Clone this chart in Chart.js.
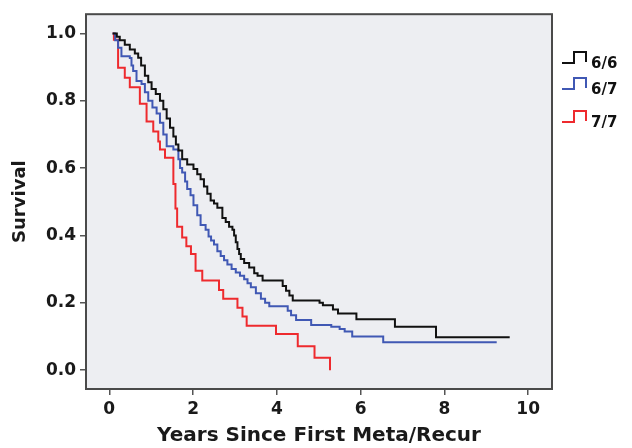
<!DOCTYPE html>
<html>
<head>
<meta charset="utf-8">
<script src="https://cdn.jsdelivr.net/npm/chart.js@4/dist/chart.umd.min.js"></script>
<style>
  html, body { margin: 0; padding: 0; background: #fff; }
</style>
</head>
<body>
<canvas id="chart" width="632" height="448"></canvas>
<script>
// group labels (legend)
const groups = ["6/6", "6/7", "7/7"];
const colors = ["#111111", "#4058b4", "#ee2a2e"];

// Kaplan-Meier steps: time (years) and survival after the drop
const times66 = [0.08, 0.18, 0.25, 0.37, 0.49, 0.61, 0.69, 0.76, 0.85, 0.93, 1.01, 1.11, 1.21, 1.29, 1.37, 1.45, 1.53, 1.59, 1.65, 1.74, 1.86, 2.01, 2.10, 2.18, 2.26, 2.34, 2.42, 2.50, 2.58, 2.70, 2.78, 2.86, 2.94, 2.98, 3.02, 3.06, 3.10, 3.14, 3.22, 3.34, 3.46, 3.54, 3.66, 4.14, 4.22, 4.30, 4.38, 5.02, 5.10, 5.34, 5.46, 5.90, 6.82, 7.80, 9.56];
const surv66 = [1.0, 0.99, 0.98, 0.966, 0.952, 0.94, 0.928, 0.905, 0.874, 0.855, 0.835, 0.82, 0.80, 0.775, 0.747, 0.72, 0.694, 0.67, 0.652, 0.626, 0.611, 0.597, 0.582, 0.567, 0.545, 0.524, 0.504, 0.495, 0.482, 0.452, 0.44, 0.426, 0.417, 0.40, 0.38, 0.36, 0.345, 0.33, 0.318, 0.305, 0.288, 0.28, 0.266, 0.25, 0.236, 0.222, 0.207, 0.20, 0.193, 0.18, 0.168, 0.151, 0.129, 0.098, 0.098];

const times67 = [0.08, 0.14, 0.21, 0.29, 0.49, 0.53, 0.57, 0.65, 0.77, 0.85, 0.93, 1.03, 1.13, 1.21, 1.29, 1.37, 1.53, 1.65, 1.69, 1.74, 1.81, 1.86, 1.94, 2.01, 2.10, 2.18, 2.30, 2.37, 2.43, 2.50, 2.58, 2.66, 2.74, 2.82, 2.92, 3.02, 3.12, 3.22, 3.30, 3.38, 3.50, 3.62, 3.72, 3.82, 4.26, 4.34, 4.46, 4.82, 5.30, 5.50, 5.62, 5.80, 6.54, 9.25];
const surv67 = [1.0, 0.98, 0.957, 0.932, 0.927, 0.905, 0.888, 0.859, 0.85, 0.825, 0.80, 0.78, 0.762, 0.735, 0.70, 0.665, 0.655, 0.626, 0.60, 0.587, 0.56, 0.538, 0.519, 0.49, 0.46, 0.431, 0.417, 0.397, 0.385, 0.373, 0.353, 0.339, 0.326, 0.314, 0.30, 0.29, 0.28, 0.27, 0.258, 0.246, 0.228, 0.212, 0.20, 0.19, 0.176, 0.163, 0.149, 0.134, 0.129, 0.122, 0.115, 0.10, 0.083, 0.083];

const times77 = [0.08, 0.11, 0.21, 0.37, 0.49, 0.73, 0.89, 1.05, 1.17, 1.21, 1.33, 1.53, 1.58, 1.62, 1.74, 1.84, 1.95, 2.06, 2.22, 2.62, 2.72, 3.06, 3.18, 3.28, 3.98, 4.50, 4.90, 5.27];
const surv77 = [1.0, 0.981, 0.898, 0.868, 0.84, 0.791, 0.738, 0.709, 0.679, 0.655, 0.631, 0.553, 0.48, 0.426, 0.394, 0.368, 0.345, 0.295, 0.266, 0.238, 0.212, 0.185, 0.159, 0.132, 0.107, 0.071, 0.037, 0.0];

// axis ticks
const xTicks = [0, 2, 4, 6, 8, 10];
const yTicks = [0.0, 0.2, 0.4, 0.6, 0.8, 1.0];

const FONT = "'DejaVu Sans', sans-serif";

function toPoints(times, surv) {
  return times.map((t, i) => ({ x: t, y: surv[i] }));
}

// grey plot background + dark frame
const framePlugin = {
  id: "frame",
  beforeDatasetsDraw(chart) {
    const { ctx, chartArea: a } = chart;
    ctx.save();
    ctx.fillStyle = "#edeef2";
    ctx.fillRect(a.left, a.top, a.right - a.left, a.bottom - a.top);
    ctx.restore();
  },
  afterDatasetsDraw(chart) {
    const { ctx, chartArea: a } = chart;
    ctx.save();
    ctx.strokeStyle = "#4a4a4a";
    ctx.lineWidth = 2;
    ctx.strokeRect(a.left, a.top, a.right - a.left, a.bottom - a.top);
    ctx.restore();
  }
};

// legend with the little step icons, outside the plot on the right
const stepLegend = {
  id: "stepLegend",
  afterDraw(chart) {
    const { ctx } = chart;
    const lows = [63, 89, 122];
    ctx.save();
    chart.data.datasets.forEach((ds, i) => {
      const x0 = 562, y = lows[i];
      ctx.strokeStyle = ds.borderColor;
      ctx.lineWidth = 2;
      ctx.beginPath();
      ctx.moveTo(x0, y);
      ctx.lineTo(x0 + 12, y);
      ctx.lineTo(x0 + 12, y - 11);
      ctx.lineTo(x0 + 24, y - 11);
      ctx.lineTo(x0 + 24, y - 1);
      ctx.stroke();
      ctx.fillStyle = "#111";
      ctx.font = "bold 15px " + FONT;
      ctx.textBaseline = "alphabetic";
      ctx.fillText(ds.label, 591, y + 5);
    });
    ctx.restore();
  }
};

new Chart(document.getElementById("chart"), {
  type: "line",
  data: {
    datasets: [
      { label: groups[0], data: toPoints(times66, surv66), borderColor: colors[0] },
      { label: groups[1], data: toPoints(times67, surv67), borderColor: colors[1] },
      { label: groups[2], data: toPoints(times77, surv77), borderColor: colors[2] }
    ].map(ds => Object.assign(ds, { stepped: "before", borderWidth: 2, pointRadius: 0, fill: false }))
  },
  options: {
    responsive: false,
    animation: false,
    layout: { padding: { left: 0, right: 80, top: 10, bottom: 0 } },
    plugins: { legend: { display: false }, tooltip: { enabled: false } },
    scales: {
      x: {
        type: "linear",
        min: -0.556,
        max: 10.57,
        afterBuildTicks: (s) => { s.ticks = xTicks.map(v => ({ value: v })); },
        afterFit: (s) => { s.height = 59; },
        border: { display: false },
        grid: { drawOnChartArea: false, drawTicks: true, tickLength: 6, tickColor: "#555", lineWidth: 1.5 },
        ticks: { color: "#1a1a1a", padding: 4, maxRotation: 0, font: { family: FONT, size: 17, weight: "bold" } },
        title: { display: true, text: "Years Since First Meta/Recur", color: "#1a1a1a", padding: { top: 0, bottom: 0 }, font: { family: FONT, size: 20, weight: "bold" } }
      },
      y: {
        min: -0.056,
        max: 1.057,
        afterBuildTicks: (s) => { s.ticks = yTicks.map(v => ({ value: v })); },
        afterFit: (s) => { s.width = 86; },
        border: { display: false },
        grid: { drawOnChartArea: false, drawTicks: true, tickLength: 6, tickColor: "#555", lineWidth: 1.5 },
        ticks: { color: "#1a1a1a", padding: 4, callback: (v) => v.toFixed(1), font: { family: FONT, size: 17, weight: "bold" } },
        title: { display: true, text: "Survival", color: "#1a1a1a", padding: { top: 10, bottom: 0 }, font: { family: FONT, size: 18, weight: "bold" } }
      }
    }
  },
  plugins: [framePlugin, stepLegend]
});
</script>
</body>
</html>
